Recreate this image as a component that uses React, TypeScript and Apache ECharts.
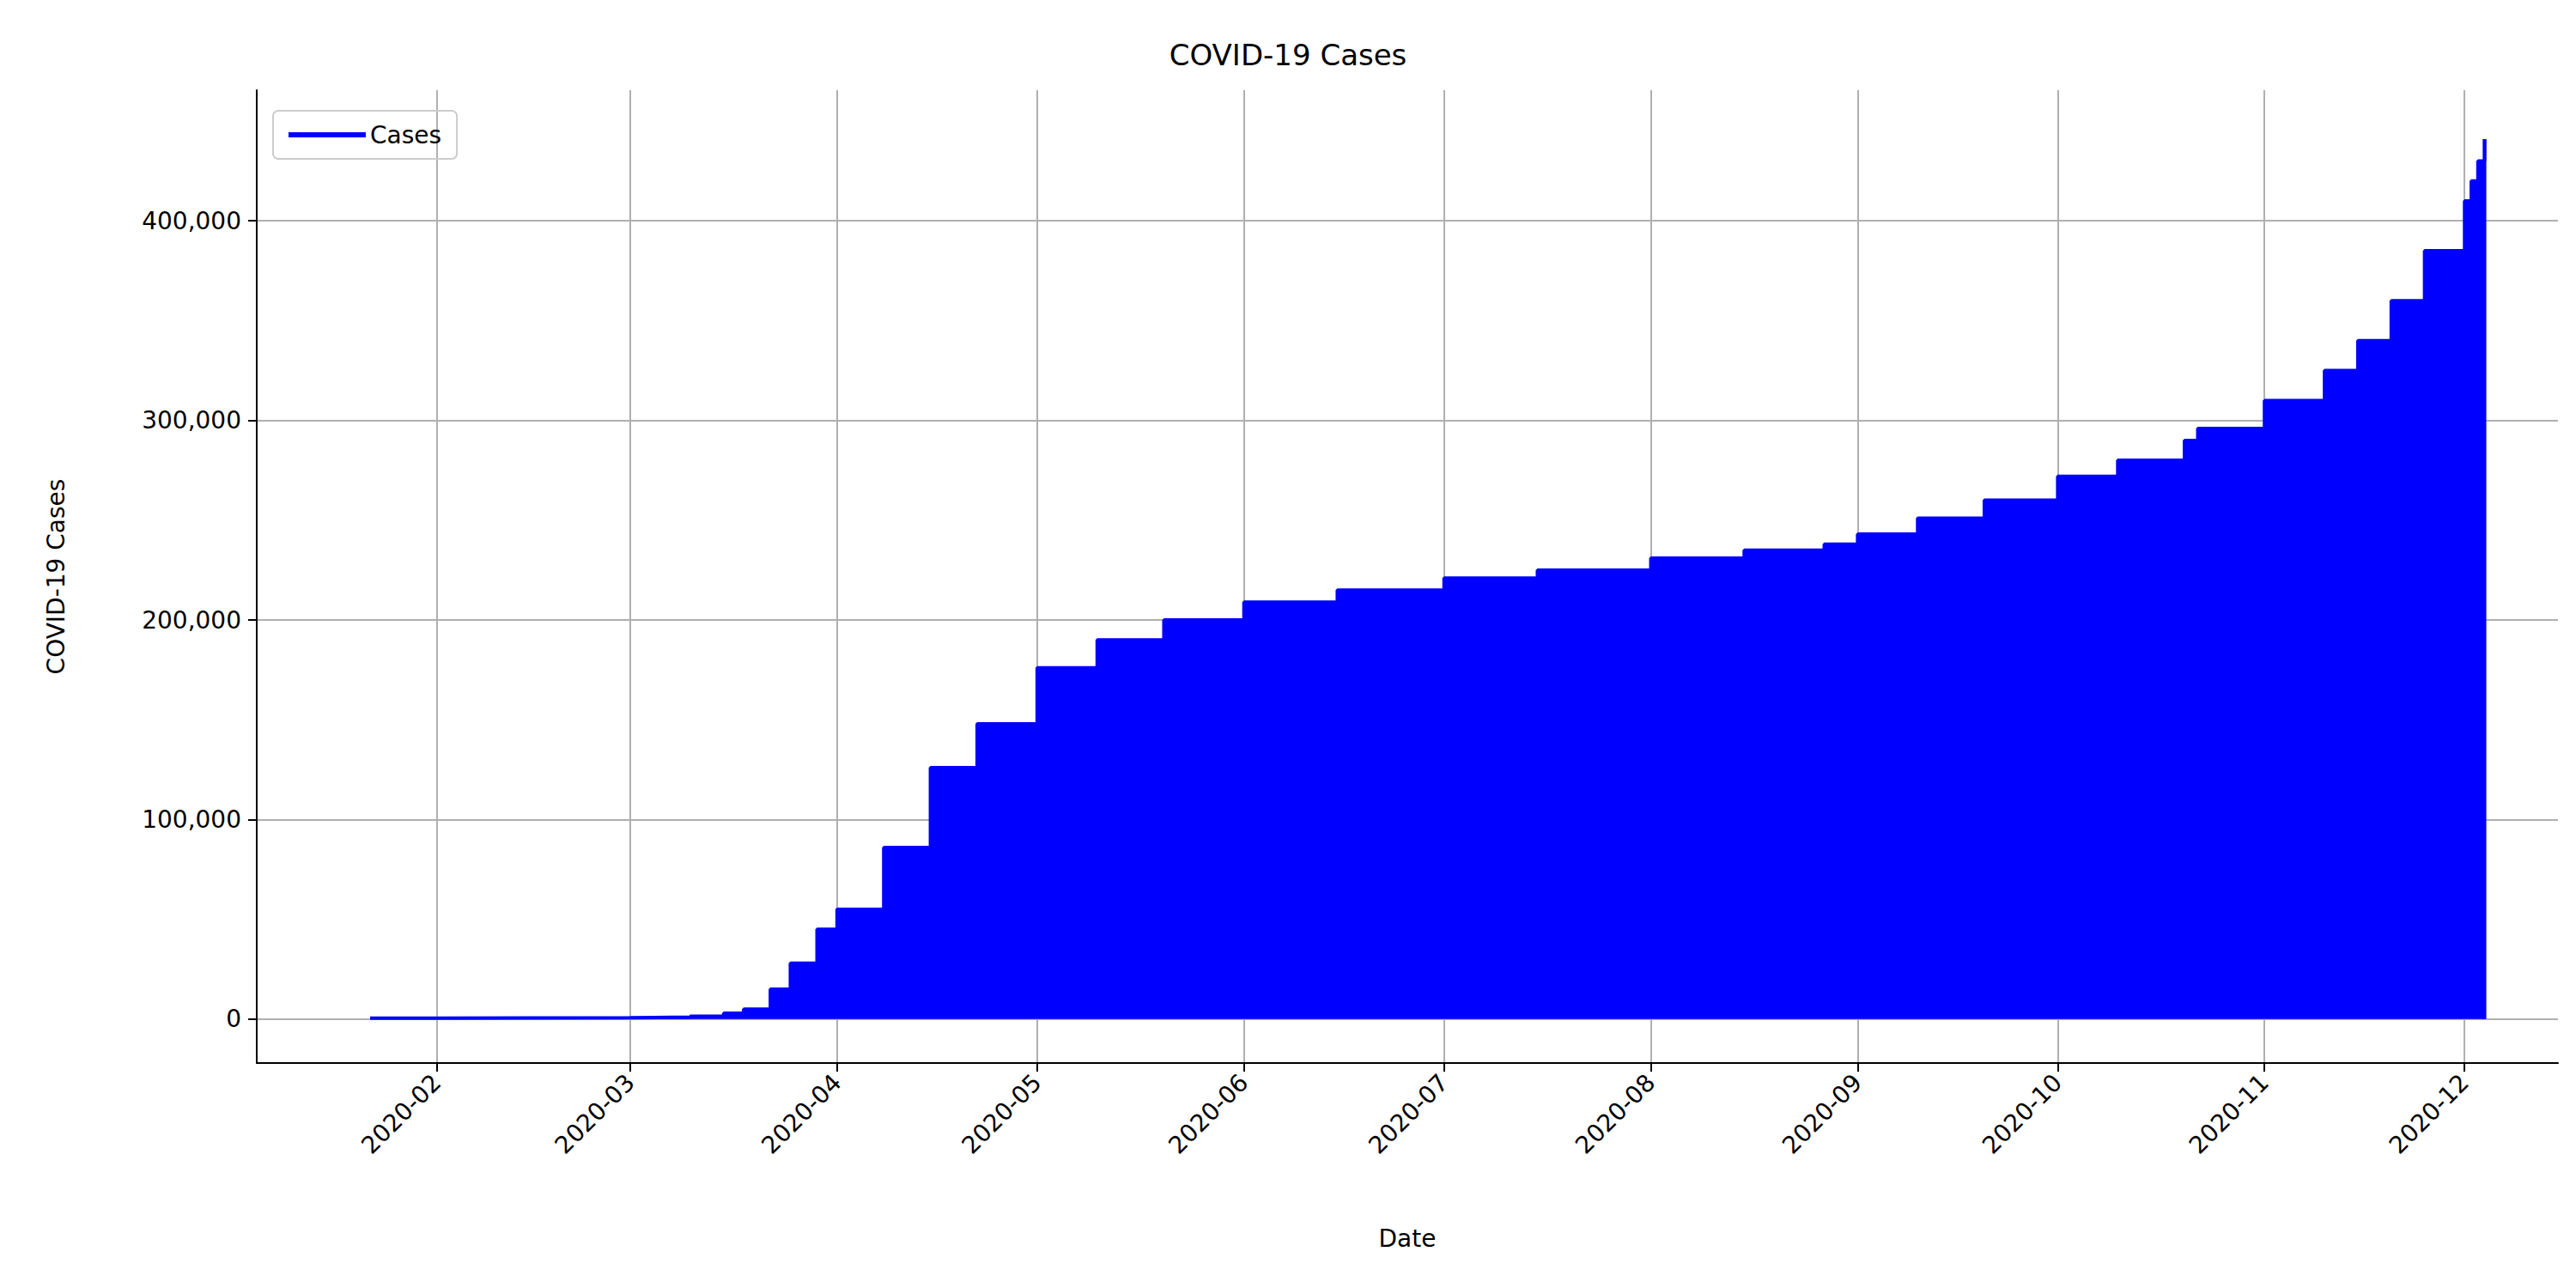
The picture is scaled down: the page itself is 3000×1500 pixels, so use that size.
import { useEffect, useRef } from 'react';
import * as echarts from 'echarts';

const dates = [
  '2020-01-22', '2020-02-01', '2020-02-15', '2020-03-01', '2020-03-10', '2020-03-15', '2020-03-18',
  '2020-03-22', '2020-03-25', '2020-03-29', '2020-04-01', '2020-04-08', '2020-04-15', '2020-04-22',
  '2020-05-01', '2020-05-10', '2020-05-20', '2020-06-01', '2020-06-15', '2020-07-01', '2020-07-15',
  '2020-08-01', '2020-08-15', '2020-08-27', '2020-09-01', '2020-09-10', '2020-09-20', '2020-10-01',
  '2020-10-10', '2020-10-20', '2020-10-22', '2020-11-01', '2020-11-10', '2020-11-15', '2020-11-20',
  '2020-11-25', '2020-12-01', '2020-12-02', '2020-12-03', '2020-12-04',
];
const cases = [
  500, 600, 700, 1000, 1500, 3000, 5000,
  15000, 28000, 45000, 55000, 86000, 126000, 148000,
  176000, 190000, 200000, 209000, 215000, 221000, 225000,
  231000, 235000, 238000, 243000, 251000, 260000, 272000,
  280000, 290000, 296000, 310000, 325000, 340000, 360000,
  385000, 410000, 420000, 430000, 441000,
];
const monthTicks = [
  '2020-02-01', '2020-03-01', '2020-04-01', '2020-05-01', '2020-06-01', '2020-07-01',
  '2020-08-01', '2020-09-01', '2020-10-01', '2020-11-01', '2020-12-01',
];
const yTicks = [0, 100000, 200000, 300000, 400000];

const ts = (d: string) => new Date(d + 'T00:00:00Z').getTime();

export default function App() {
  const ref = useRef<HTMLDivElement>(null);

  useEffect(() => {
    if (!ref.current) return;
    const chart = echarts.init(ref.current, null, { renderer: 'svg' });
    const font = 'DejaVu Sans';
    chart.setOption({
      animation: false,
      backgroundColor: '#fff',
      textStyle: { fontFamily: font },
      title: {
        text: 'COVID-19 Cases',
        left: 'center',
        top: 42,
        textStyle: { fontSize: 34, fontWeight: 'normal', color: '#000', fontFamily: font },
      },
      grid: { left: 299, right: 21, top: 105, bottom: 262 },
      legend: {
        left: 318,
        top: 129,
        padding: [14, 18, 14, 18],
        borderColor: '#ccc',
        borderWidth: 2,
        borderRadius: 6,
        itemWidth: 90,
        itemHeight: 6,
        textStyle: { fontSize: 28, color: '#000', fontFamily: font },
        data: [{ name: 'Cases', icon: 'rect' }],
      },
      xAxis: {
        type: 'value',
        min: ts('2020-01-05'),
        max: ts('2020-12-15'),
        name: 'Date',
        nameLocation: 'middle',
        nameGap: 190,
        nameTextStyle: { fontSize: 28, color: '#000' },
        axisLine: { show: true, onZero: false, lineStyle: { color: '#000', width: 2 } },
        axisTick: { show: true, length: 10, lineStyle: { color: '#000', width: 2 }, customValues: monthTicks.map(ts) },
        axisLabel: {
          customValues: monthTicks.map(ts),
          rotate: 45,
          fontSize: 28,
          color: '#000',
          margin: 18,
          formatter: (v: number) => {
            const d = new Date(v);
            return d.getUTCFullYear() + '-' + String(d.getUTCMonth() + 1).padStart(2, '0');
          },
        },
        splitLine: { show: true, lineStyle: { color: '#b0b0b0', width: 2 } },
      },
      yAxis: {
        type: 'value',
        min: -22000,
        max: 465500,
        name: 'COVID-19 Cases',
        nameLocation: 'middle',
        nameGap: 220,
        nameTextStyle: { fontSize: 28, color: '#000' },
        axisLine: { show: true, onZero: false, lineStyle: { color: '#000', width: 2 } },
        axisTick: { show: true, length: 10, lineStyle: { color: '#000', width: 2 }, customValues: yTicks },
        axisLabel: { customValues: yTicks, fontSize: 28, color: '#000', margin: 18 },
        splitLine: { show: true, lineStyle: { color: '#b0b0b0', width: 2 } },
      },
      series: [
        {
          name: 'Cases',
          type: 'line',
          step: 'end',
          symbol: 'none',
          data: dates.map((d, i) => [ts(d), cases[i]]),
          lineStyle: { color: '#0000ff', width: 4 },
          itemStyle: { color: '#0000ff' },
          areaStyle: { color: '#0000ff', opacity: 1, origin: 0 },
        },
        {
          type: 'line',
          symbol: 'none',
          silent: true,
          data: [[ts('2020-12-04'), 0], [ts('2020-12-04'), 441000]],
          lineStyle: { color: '#0000ff', width: 4 },
        },
      ],
    });
    return () => chart.dispose();
  }, []);

  return <div ref={ref} style={{ position: 'absolute', left: 0, top: 0, width: 3000, height: 1500 }} />;
}
